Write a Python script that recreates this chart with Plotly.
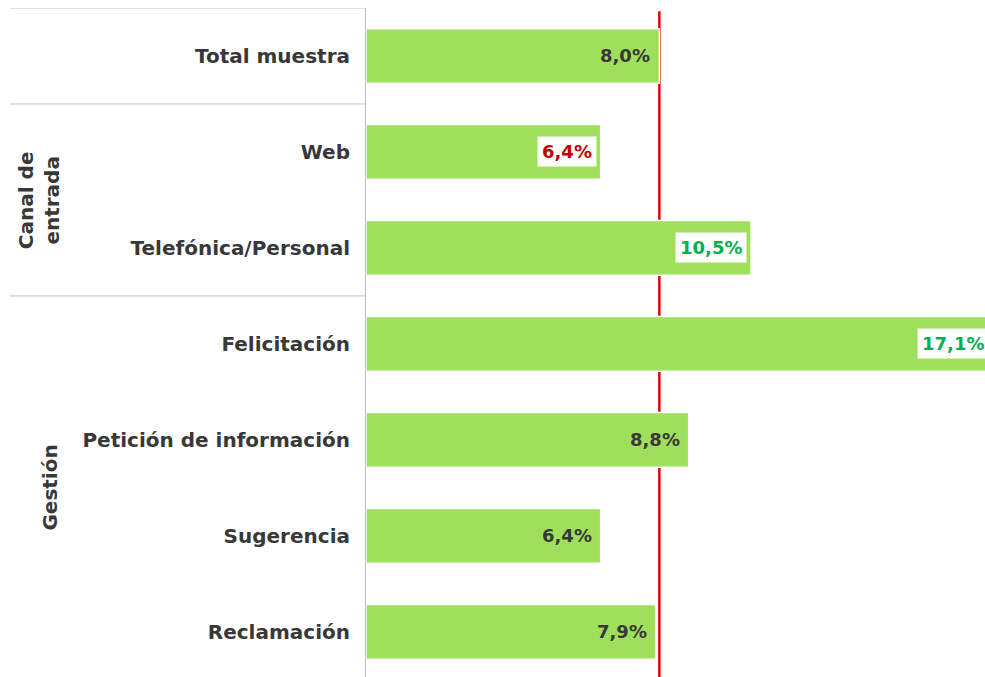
import plotly.graph_objects as go

categories = ["Total muestra", "Web", "Telefónica/Personal", "Felicitación",
              "Petición de información", "Sugerencia", "Reclamación"]
values = [8.0, 6.4, 10.5, 17.1, 8.8, 6.4, 7.9]
label_colors = ["#383838", "#C00000", "#00B050", "#00B050", "#383838", "#383838", "#383838"]
label_boxed = [False, True, True, True, False, False, False]
group_names = ["Canal de<br>entrada", "Gestión"]
group_centers = [1.5, 4.5]
separators = [-0.5, 0.5, 2.5]
reference_value = values[0]

XMAX = 16.88
FONT = "DejaVu Sans"
TEXT = "#383838"
BAR = "#A0DF5B"
GRID = "#BFBFBF"

fig = go.Figure()
fig.add_trace(go.Bar(
    x=values, y=categories, orientation="h",
    marker=dict(color=BAR, line=dict(color="white", width=1.5)),
    width=0.57, hoverinfo="skip",
))

# reference line at total sample value
fig.add_shape(type="line", xref="x", yref="paper", x0=reference_value, x1=reference_value,
              y0=0, y1=0.995, line=dict(color="#E00000", width=2.5), layer="below")

# separators on the left label area
for s in separators:
    fig.add_shape(type="line", xref="paper", yref="y", x0=-0.575, x1=-0.001,
                  y0=s, y1=s, line=dict(color=GRID, width=1))

# value labels
for c, v, col, boxed in zip(categories, values, label_colors, label_boxed):
    fig.add_annotation(
        xref="paper", yref="y", x=v / XMAX, y=c, xanchor="right", yanchor="middle",
        text=f"<b>{v:.1f}%</b>".replace(".", ","), showarrow=False,
        font=dict(family=FONT, size=18, color=col),
        bgcolor="white" if boxed else "rgba(0,0,0,0)",
        borderpad=4, xshift=-4,
    )

# group labels
for g, yc, xp in zip(group_names, group_centers, [-0.528, -0.511]):
    fig.add_annotation(
        xref="paper", yref="y", x=xp, y=yc, xanchor="center", yanchor="middle",
        text=f"<b>{g}</b>", textangle=-90, showarrow=False,
        font=dict(family=FONT, size=20, color=TEXT),
    )

fig.update_layout(
    width=985, height=677,
    margin=dict(l=366, r=0, t=8, b=0),
    paper_bgcolor="white", plot_bgcolor="white",
    showlegend=False, bargap=0.4,
    font=dict(family=FONT, color=TEXT),
)
fig.update_xaxes(range=[0, XMAX], showgrid=False, zeroline=False, showticklabels=False,
                 ticks="", showline=False, fixedrange=True)
fig.update_yaxes(range=[6.47, -0.5], showgrid=False, zeroline=False, ticks="",
                 showline=True, linecolor=GRID, linewidth=1,
                 tickfont=dict(family=FONT, size=20, color=TEXT, weight="bold"),
                 ticklabelstandoff=11, fixedrange=True)

fig.write_html(
    "out.html",
    config={"displayModeBar": False},
    post_script="document.body.style.margin='0';document.body.style.overflow='hidden';",
)
